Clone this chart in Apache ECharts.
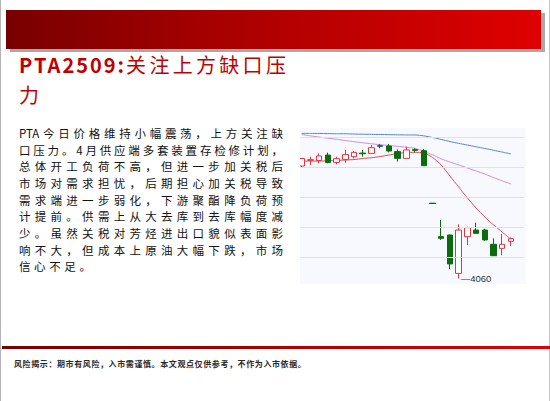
<!DOCTYPE html>
<html>
<head>
<meta charset="utf-8">
<script src="https://cdn.jsdelivr.net/npm/echarts@6/dist/echarts.min.js"></script>
<style>
  html, body { margin: 0; padding: 0; background: #fff; }
  #page { position: relative; width: 550px; height: 401px; overflow: hidden; background: #fff;
          font-family: "Noto Sans CJK SC", sans-serif; }
  .edgeL { position: absolute; left: 0; top: 0; width: 1px; height: 401px; background: #b4b4b4; }
  .edgeR { position: absolute; left: 549px; top: 0; width: 1px; height: 401px; background: #c4c4c4; }
  .barShadow { position: absolute; left: 10px; top: 13px; width: 535px; height: 39px; background: #a8a8a8; }
  .bar { position: absolute; left: 6px; top: 10px; width: 535px; height: 39px;
         background: linear-gradient(to right, #780000, #a80000 40%, #e00000); }
  .title { position: absolute; left: 19px; top: 50px; color: #c00000; font-size: 20px; line-height: 30px; white-space: nowrap; }
  .title .lat { font-weight: bold; letter-spacing: 2px; }
  .title .cjk { letter-spacing: 3.3px; }
  .para { position: absolute; left: 19px; top: 125px; width: 264px; font-size: 11.5px; line-height: 16.67px; color: #111; }
  .para div { height: 16.67px; text-align: justify; text-align-last: justify; }
  .para div.last { text-align-last: left; letter-spacing: 3.6px; }
  .footLine { position: absolute; left: 2px; top: 346px; width: 548px; height: 2.5px;
              background: linear-gradient(to right, #780000, #e00000); }
  .foot { position: absolute; left: 14px; top: 358px; font-size: 8px; line-height: 12px; letter-spacing: 0.6px;
          color: #2a2a2a; font-weight: bold; white-space: nowrap; }
  #chart { position: absolute; left: 300px; top: 128px; width: 226px; height: 156px; background: #f7f9fe; }
</style>
</head>
<body>
<div id="page">
  <div class="edgeL"></div>
  <div class="edgeR"></div>
  <div class="barShadow"></div>
  <div class="bar"></div>
  <div class="title"><span class="lat">PTA2509:</span><span class="cjk">关注上方缺口压</span><br><span class="cjk">力</span></div>
  <div class="para">
    <div>PTA今日价格维持小幅震荡，上方关注缺</div>
    <div>口压力。4月供应端多套装置存检修计划，</div>
    <div>总体开工负荷不高，但进一步加关税后</div>
    <div>市场对需求担忧，后期担心加关税导致</div>
    <div>需求端进一步弱化，下游聚酯降负荷预</div>
    <div>计提前。供需上从大去库到去库幅度减</div>
    <div>少。虽然关税对芳烃进出口貌似表面影</div>
    <div>响不大，但成本上原油大幅下跌，市场</div>
    <div class="last">信心不足。</div>
  </div>
  <div id="chart"></div>
  <div class="footLine"></div>
  <div class="foot">风险揭示：期市有风险，入市需谨慎。本文观点仅供参考，不作为入市依据。</div>
</div>
<script>
// trading days (last slot is empty space at the right edge)
const days = ['2025-03-14', '2025-03-17', '2025-03-18', '2025-03-19', '2025-03-20', '2025-03-21',
  '2025-03-24', '2025-03-25', '2025-03-26', '2025-03-27', '2025-03-28', '2025-03-31',
  '2025-04-01', '2025-04-02', '2025-04-03', '2025-04-07', '2025-04-08', '2025-04-09',
  '2025-04-10', '2025-04-11', '2025-04-14', '2025-04-15', '2025-04-16', '2025-04-17',
  '2025-04-18', '2025-04-21']

// [open, close, low, high]
const ohlc = [
  [4810, 4860, 4797, 4862],
  [4848, 4852, 4817, 4872],
  [4846, 4877, 4828, 4894],
  [4883, 4834, 4828, 4899],
  [4834, 4859, 4821, 4872],
  [4854, 4886, 4832, 4917],
  [4872, 4901, 4861, 4910],
  [4896, 4892, 4872, 4917],
  [4894, 4932, 4890, 4950],
  [4945, 4942, 4928, 4957],
  [4943, 4910, 4901, 4957],
  [4906, 4861, 4839, 4921],
  [4861, 4917, 4861, 4939],
  [4919, 4914, 4901, 4928],
  [4912, 4812, 4812, 4923],
  [4562, 4560, 4560, 4562],
  [4339, 4328, 4317, 4450],
  [4350, 4157, 4123, 4352],
  [4094, 4383, 4060, 4421],
  [4339, 4399, 4283, 4406],
  [4383, 4361, 4361, 4432],
  [4383, 4317, 4312, 4392],
  [4288, 4212, 4212, 4328],
  [4261, 4288, 4215, 4357],
  [4308, 4325, 4277, 4334],
]

// moving averages
const ma5 = [4843, 4843, 4843, 4845, 4847, 4850, 4853, 4860, 4865, 4873, 4883, 4893, 4900,
  4901, 4898, 4867, 4817, 4743, 4670, 4597, 4530, 4470, 4417, 4370, 4320, '-']
const ma20 = [5020, 5011, 5003, 4995, 4988, 4980, 4972, 4965, 4958, 4952, 4947, 4941, 4935,
  4928, 4908, 4885, 4857, 4837, 4817, 4797, 4777, 4757, 4733, 4711, 4690, '-']
const ma60 = [5028, 5027, 5027, 5026, 5025, 5025, 5023, 5022, 5021, 5020, 5019, 5018, 5017,
  5017, 5011, 5000, 4987, 4973, 4961, 4950, 4938, 4927, 4915, 4903, 4890, '-']

const gridValues = [4200, 4400, 4600, 4800, 5000]
const lowDay = '2025-04-10'
const lowValue = 4060

const chart = echarts.init(document.getElementById('chart'), null, {renderer: 'svg'})

chart.setOption({
  animation: false,
  grid: {left: -2.66, top: 0.5, width: 226.7, height: 156, outerBoundsMode: 'none'},
  xAxis: {type: 'category', data: days, boundaryGap: true, show: false},
  yAxis: {type: 'value', min: 4020, max: 5060, show: false, splitLine: {show: false}},
  series: [
    {
      type: 'line', data: ma60, z: 1, showSymbol: false, smooth: 0.2,
      lineStyle: {color: '#5686d6', width: 1},
      // horizontal guide lines
      markLine: {
        silent: true, symbol: ['none', 'none'], label: {show: false},
        lineStyle: {color: '#d6e3f5', width: 1, type: 'solid'},
        data: gridValues.map(v => ({yAxis: v})),
      },
    },
    {
      type: 'line', data: ma20, z: 2, showSymbol: false, smooth: 0.2,
      lineStyle: {color: '#c68cf0', width: 1},
    },
    {
      type: 'line', data: ma5, z: 2, showSymbol: false, smooth: 0.2,
      lineStyle: {color: '#e8484f', width: 1},
    },
    {
      type: 'candlestick', data: ohlc, z: 3, barWidth: 6,
      itemStyle: {
        color: '#ffffff', color0: '#0c6b0c',
        borderColor: '#e5343e', borderColor0: '#0c6b0c', borderWidth: 1,
      },
      markPoint: {
        symbol: 'circle', symbolSize: 0, silent: true,
        data: [{coord: [lowDay, lowValue], value: lowValue}],
        label: {
          show: true, position: 'right', distance: 2, offset: [0, 0],
          formatter: '—{c}', color: '#333', fontSize: 9.5, fontFamily: 'Liberation Sans',
        },
      },
    },
  ],
})
</script>
</body>
</html>
